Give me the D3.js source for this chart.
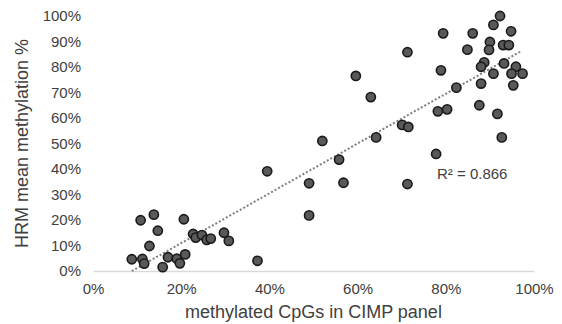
<!DOCTYPE html>
<html>
<head>
<meta charset="utf-8">
<script src="https://cdn.jsdelivr.net/npm/d3@7"></script>
<style>
  body { margin: 0; background: #fff; }
  svg { display: block; }
</style>
</head>
<body>
<svg id="chart"></svg>
<script>
// values (fractions of 1)
const cpgShare = [
  0.108, 0.138, 0.147, 0.128, 0.088, 0.112, 0.116, 0.158, 0.170, 0.190,
  0.197, 0.209, 0.206, 0.227, 0.233, 0.247, 0.258, 0.267, 0.297, 0.308,
  0.373, 0.395, 0.490, 0.490, 0.520, 0.558, 0.568, 0.642, 0.596, 0.630,
  0.923, 0.908, 0.794, 0.861, 0.948, 0.713, 0.849, 0.900, 0.898, 0.930,
  0.943, 0.789, 0.887, 0.880, 0.932, 0.908, 0.959, 0.949, 0.974, 0.953,
  0.880, 0.824, 0.782, 0.803, 0.876, 0.917, 0.701, 0.715, 0.927, 0.778,
  0.713,
];
const hrmMethylation = [
  0.199, 0.221, 0.158, 0.098, 0.046, 0.047, 0.029, 0.015, 0.054, 0.048,
  0.030, 0.065, 0.203, 0.145, 0.131, 0.141, 0.122, 0.127, 0.150, 0.118,
  0.040, 0.391, 0.344, 0.218, 0.510, 0.437, 0.346, 0.524, 0.765, 0.682,
  1.000, 0.965, 0.932, 0.932, 0.940, 0.858, 0.868, 0.898, 0.867, 0.886,
  0.886, 0.787, 0.818, 0.801, 0.814, 0.774, 0.801, 0.774, 0.774, 0.728,
  0.735, 0.719, 0.626, 0.634, 0.650, 0.616, 0.573, 0.565, 0.524, 0.459,
  0.341,
];
const xTicks = [0, 0.2, 0.4, 0.6, 0.8, 1];
const yTicks = [0, 0.1, 0.2, 0.3, 0.4, 0.5, 0.6, 0.7, 0.8, 0.9, 1];
// linear trend line end points
const trendX = [0.088, 0.972];
const trendY = [0.0, 0.863];
const rSquaredLabel = 'R² = 0.866';

const width = 562;
const height = 324;
const margin = { top: 16, right: 28, bottom: 53, left: 93 };
const font = 'Liberation Sans, Arial, sans-serif';

const svg = d3.select('#chart')
  .attr('width', width)
  .attr('height', height);

const x = d3.scaleLinear()
  .domain([0, 1])
  .range([margin.left, width - margin.right]);

const y = d3.scaleLinear()
  .domain([0, 1])
  .range([height - margin.bottom, margin.top]);

const pct = d3.format('.0%');

// x axis (light baseline only)
const xAxis = svg.append('g')
  .attr('transform', `translate(0,${y(0)})`)
  .call(d3.axisBottom(x).tickValues(xTicks).tickFormat(pct).tickSize(0).tickPadding(12));
xAxis.select('.domain').attr('stroke', '#d9d9d9').attr('stroke-width', 1.3);
xAxis.selectAll('text')
  .attr('font-family', font)
  .attr('font-size', 15)
  .attr('fill', '#404040');

const yAxis = svg.append('g')
  .attr('transform', `translate(${x(0)},0)`)
  .call(d3.axisLeft(y).tickValues(yTicks).tickFormat(pct).tickSize(0).tickPadding(12));
yAxis.select('.domain').remove();
yAxis.selectAll('text')
  .attr('font-family', font)
  .attr('font-size', 15)
  .attr('fill', '#404040');

// trend line
svg.append('line')
  .attr('x1', x(trendX[0]))
  .attr('y1', y(trendY[0]))
  .attr('x2', x(trendX[1]))
  .attr('y2', y(trendY[1]))
  .attr('stroke', '#7f7f7f')
  .attr('stroke-width', 2)
  .attr('stroke-dasharray', '2 2');

// points
svg.append('g')
  .selectAll('circle')
  .data(cpgShare.map((d, i) => ({ x: d, y: hrmMethylation[i] })))
  .enter().append('circle')
  .attr('cx', (d) => x(d.x))
  .attr('cy', (d) => y(d.y))
  .attr('r', 4.6)
  .attr('fill', '#595959')
  .attr('stroke', '#1a1a1a')
  .attr('stroke-width', 1.6);

svg.append('text')
  .attr('x', 437)
  .attr('y', 179)
  .attr('font-family', font)
  .attr('font-size', 15)
  .attr('fill', '#404040')
  .text(rSquaredLabel);

// axis titles
svg.append('text')
  .attr('x', (x(0) + x(1)) / 2)
  .attr('y', 318)
  .attr('text-anchor', 'middle')
  .attr('font-family', font)
  .attr('font-size', 18)
  .attr('fill', '#404040')
  .text('methylated CpGs in CIMP panel');

svg.append('text')
  .attr('transform', `translate(28,${(y(0) + y(1)) / 2}) rotate(-90)`)
  .attr('text-anchor', 'middle')
  .attr('font-family', font)
  .attr('font-size', 18)
  .attr('fill', '#404040')
  .text('HRM mean methylation %');
</script>
</body>
</html>
